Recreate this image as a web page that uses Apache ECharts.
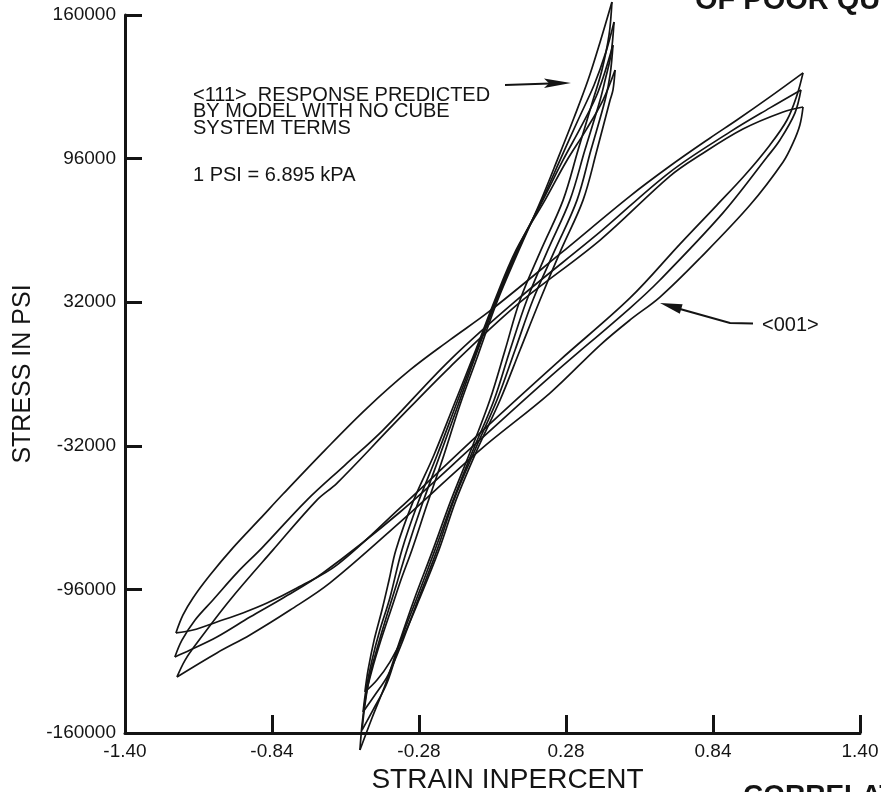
<!DOCTYPE html>
<html>
<head>
<meta charset="utf-8">
<title>Stress-strain loops, &lt;111&gt; and &lt;001&gt;</title>
<script src="https://cdn.jsdelivr.net/npm/echarts@6.0.0/dist/echarts.min.js"></script>
<style>
  html, body { margin: 0; padding: 0; background: #fff; }
  #chart { width: 881px; height: 792px; }
</style>
</head>
<body>
<div id="chart"></div>
<script>
// axis ticks
const strainTicks = [-1.40, -0.84, -0.28, 0.28, 0.84, 1.40];
const stressTicks = [-160000, -96000, -32000, 32000, 96000, 160000];

// <001> loops: [strain %, stress psi]
// loading branches (upper left)
const up001A = [[-1.206,-115400],[-1.179,-107400],[-1.141,-99800],[-1.076,-89600],[-0.989,-77500],[-0.886,-64600],[-0.798,-53500],[-0.638,-33900],[-0.478,-15200],[-0.314,1800],[-0.162,15200],[-0.010,28100],[0.257,53500],[0.524,79300],[0.676,92700],[0.829,105200],[0.931,113200],[1.057,123500],[1.183,134200]];
const up001B = [[-1.210,-126100],[-1.183,-118600],[-1.133,-109600],[-1.065,-100700],[-0.970,-88200],[-0.878,-77500],[-0.707,-56200],[-0.562,-40600],[-0.417,-25000],[-0.162,6200],[0.093,33000],[0.410,63300],[0.676,90000],[0.905,107900],[1.057,118600],[1.175,126600]];
const up001C = [[-1.202,-135000],[-1.171,-127500],[-1.126,-119900],[-1.000,-100700],[-0.836,-78400],[-0.669,-56200],[-0.592,-48600],[-0.379,-22700],[-0.162,3100],[0.093,30800],[0.410,59700],[0.676,88200],[0.791,97600],[0.954,109200],[1.107,116800],[1.183,119000]];
// unloading branches (lower right)
const down001A = [[1.183,134200],[1.160,124300],[1.122,113200],[1.057,102100],[0.962,88700],[0.855,75300],[0.714,57900],[0.524,33900],[0.257,6200],[-0.048,-26300],[-0.352,-59700],[-0.592,-85100],[-0.745,-95400],[-0.859,-102100],[-0.951,-106500],[-1.050,-110500],[-1.141,-114100],[-1.206,-115400]];
const down001B = [[1.175,126600],[1.152,116300],[1.095,104300],[1.046,96700],[0.878,71800],[0.638,41900],[0.524,29400],[0.219,-1300],[-0.048,-29400],[-0.352,-61500],[-0.646,-88700],[-0.798,-99800],[-0.924,-108300],[-1.050,-117200],[-1.152,-123000],[-1.210,-126100]];
const down001C = [[1.183,119000],[1.171,111000],[1.145,103000],[1.107,94500],[0.981,75300],[0.791,51700],[0.638,34300],[0.524,24100],[0.410,12900],[0.219,-8500],[-0.048,-33900],[-0.352,-66000],[-0.619,-93100],[-0.771,-105200],[-0.924,-116300],[-1.050,-124300],[-1.202,-135000]];

// <111> loops (steep bundle)
const up111A = [[-0.505,-167600],[-0.497,-156400],[-0.482,-143100],[-0.459,-131900],[-0.425,-118600],[-0.387,-105200],[-0.349,-91800],[-0.307,-78400],[-0.250,-58400],[-0.185,-36100],[-0.124,-13800],[-0.055,8500],[0.017,32100],[0.101,55300],[0.185,77500],[0.250,96300],[0.310,114100],[0.364,131000],[0.410,148000],[0.455,165800]];
const up111B = [[-0.497,-158700],[-0.486,-147500],[-0.467,-134200],[-0.436,-120800],[-0.402,-107400],[-0.364,-93100],[-0.326,-78400],[-0.269,-58400],[-0.200,-36100],[-0.131,-13800],[-0.063,8500],[0.013,32100],[0.097,55300],[0.189,77500],[0.261,96300],[0.326,113200],[0.387,128800],[0.432,143500],[0.463,156900]];
const up111C = [[-0.493,-150600],[-0.482,-140800],[-0.459,-127500],[-0.429,-114100],[-0.391,-99800],[-0.345,-78400],[-0.284,-57500],[-0.211,-36100],[-0.139,-13800],[-0.067,8500],[0.010,32100],[0.093,55300],[0.192,77500],[0.269,95400],[0.341,111000],[0.402,125700],[0.459,146600]];
const up111D = [[-0.486,-141700],[-0.474,-131900],[-0.451,-118600],[-0.421,-105200],[-0.394,-91800],[-0.368,-78400],[-0.303,-57000],[-0.223,-36100],[-0.147,-13800],[-0.071,8500],[0.006,32100],[0.090,55300],[0.200,77500],[0.280,94500],[0.356,108700],[0.421,122100],[0.467,135500]];
const down111A = [[0.455,165800],[0.444,151100],[0.417,135500],[0.383,122100],[0.326,99800],[0.269,77500],[0.185,55300],[0.105,33000],[0.048,10700],[-0.010,-11600],[-0.082,-33900],[-0.158,-56200],[-0.227,-78400],[-0.299,-100700],[-0.352,-118600],[-0.406,-137700],[-0.459,-153300],[-0.505,-167600]];
const down111B = [[0.463,156900],[0.451,142200],[0.429,131000],[0.410,122100],[0.352,99800],[0.295,77500],[0.211,55300],[0.131,33000],[0.067,10700],[0.006,-11600],[-0.074,-33900],[-0.150,-56200],[-0.219,-78400],[-0.291,-100700],[-0.349,-118600],[-0.402,-137700],[-0.455,-149700],[-0.497,-158700]];
const down111C = [[0.459,146600],[0.448,133300],[0.429,122100],[0.375,99800],[0.322,77500],[0.238,55300],[0.154,33000],[0.086,10700],[0.017,-11600],[-0.067,-33900],[-0.147,-56200],[-0.211,-78400],[-0.284,-100700],[-0.341,-118600],[-0.398,-134200],[-0.448,-143100],[-0.493,-150600]];
const down111D = [[0.467,135500],[0.459,126600],[0.448,122100],[0.398,99800],[0.345,77500],[0.261,55300],[0.181,33000],[0.105,10700],[0.029,-11600],[-0.059,-33900],[-0.139,-56200],[-0.204,-78400],[-0.280,-100700],[-0.337,-116300],[-0.391,-128400],[-0.440,-136400],[-0.486,-141700]];

const INK = '#141414';
const FONT = '"Liberation Sans", Arial, sans-serif';

const chart = echarts.init(document.getElementById('chart'), null, { renderer: 'canvas' });

// one branch of a loop = one line
function branch(name, data) {
    return {
        name: name,
        type: 'line',
        data: data,
        smooth: 0.35,
        symbol: 'none',
        clip: false,
        silent: true,
        lineStyle: { color: INK, width: 1.7 }
    };
}

const series = [
    branch('<001> up A', up001A), branch('<001> up B', up001B), branch('<001> up C', up001C),
    branch('<001> down A', down001A), branch('<001> down B', down001B), branch('<001> down C', down001C),
    branch('<111> up A', up111A), branch('<111> up B', up111B), branch('<111> up C', up111C), branch('<111> up D', up111D),
    branch('<111> down A', down111A), branch('<111> down B', down111B), branch('<111> down C', down111C), branch('<111> down D', down111D)
];

const axisInk = { color: INK, width: 3 };

chart.setOption({
    backgroundColor: '#fff',
    animation: false,
    grid: { left: 125, right: 21, top: 15, bottom: 59, containLabel: false, outerBoundsMode: 'none' },
    xAxis: {
        type: 'value',
        min: -1.4,
        max: 1.4,
        name: 'STRAIN INPERCENT',
        nameLocation: 'middle',
        nameGap: 25,
        nameTextStyle: { color: INK, fontSize: 28, fontFamily: FONT, padding: [0, 0, 0, 30] },
        axisLine: { onZero: false, lineStyle: axisInk },
        axisTick: { show: true, inside: true, length: 18, lineStyle: axisInk, customValues: strainTicks.slice(1) },
        axisLabel: {
            color: INK, fontSize: 19, fontFamily: FONT, margin: 9,
            customValues: strainTicks,
            formatter: v => v.toFixed(2)
        },
        splitLine: { show: false }
    },
    yAxis: {
        type: 'value',
        min: -160000,
        max: 160000,
        name: 'STRESS IN PSI',
        nameLocation: 'middle',
        nameRotate: 90,
        nameGap: 88,
        nameTextStyle: { color: INK, fontSize: 25, fontFamily: FONT },
        axisLine: { onZero: false, lineStyle: axisInk },
        axisTick: { show: true, inside: true, length: 17, lineStyle: axisInk, customValues: stressTicks.slice(1) },
        axisLabel: {
            color: INK, fontSize: 19, fontFamily: FONT, margin: 9,
            customValues: stressTicks,
            formatter: v => String(v)
        },
        splitLine: { show: false }
    },
    series: series,
    graphic: [
        {
            type: 'text', x: 193, y: 87, silent: true,
            style: {
                text: '<111>  RESPONSE PREDICTED\nBY MODEL WITH NO CUBE\nSYSTEM TERMS',
                fill: INK, font: '20px ' + FONT, lineHeight: 16.5, verticalAlign: 'top', align: 'left'
            }
        },
        {
            type: 'text', x: 193, y: 175, silent: true,
            style: { text: '1 PSI = 6.895 kPA', fill: INK, font: '20px ' + FONT, verticalAlign: 'middle', align: 'left' }
        },
        {
            type: 'line', silent: true,
            shape: { x1: 505, y1: 85, x2: 550, y2: 83.5 },
            style: { stroke: INK, lineWidth: 2 }
        },
        {
            type: 'polygon', silent: true,
            shape: { points: [[571, 83], [544, 78.5], [549, 83.3], [544, 88]] },
            style: { fill: INK }
        },
        {
            type: 'text', x: 762, y: 325, silent: true,
            style: { text: '<001>', fill: INK, font: '20px ' + FONT, verticalAlign: 'middle', align: 'left' }
        },
        {
            type: 'polyline', silent: true,
            shape: { points: [[753, 323.5], [730, 323], [680, 309]] },
            style: { stroke: INK, lineWidth: 2.2, fill: null }
        },
        {
            type: 'polygon', silent: true,
            shape: { points: [[660, 303], [682.6, 304.2], [679.8, 313.8]] },
            style: { fill: INK }
        },
        {
            type: 'text', x: 695, y: 1, silent: true,
            style: { text: 'OF POOR QUALITY', fill: INK, font: 'bold 29px ' + FONT, verticalAlign: 'middle', align: 'left' }
        },
        {
            type: 'text', x: 743, y: 796, silent: true,
            style: { text: 'CORRELATE', fill: INK, font: 'bold 28px ' + FONT, verticalAlign: 'middle', align: 'left' }
        }
    ]
});
</script>
</body>
</html>
